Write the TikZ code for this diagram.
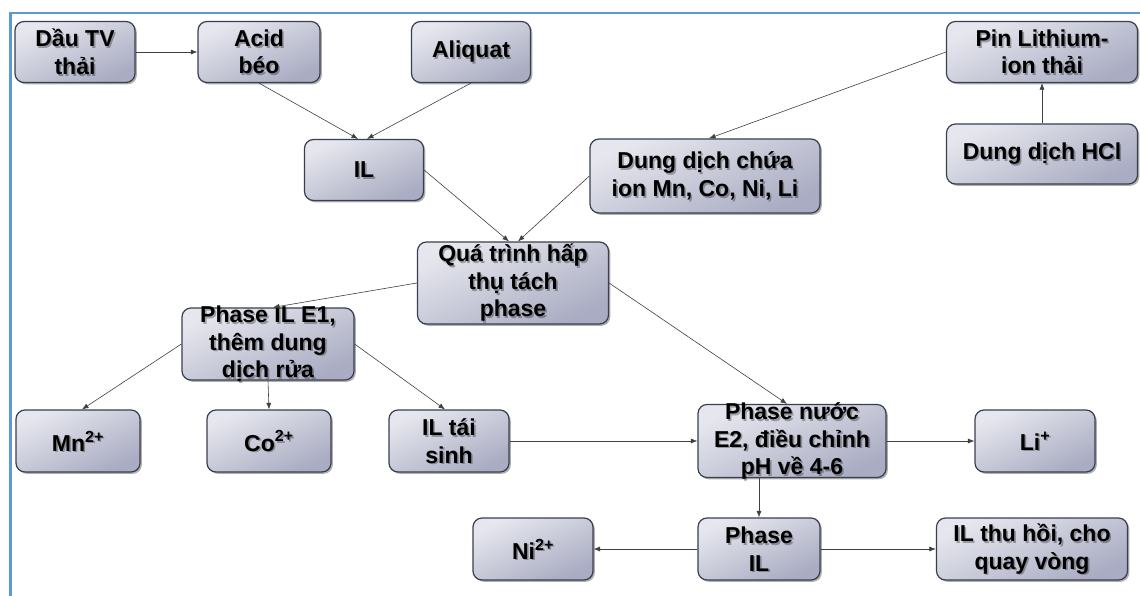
\documentclass[tikz,border=0pt]{standalone}
\usepackage{fontspec}
\setmainfont{Liberation Sans}
\usetikzlibrary{shadows,arrows.meta}
\definecolor{frameblue}{HTML}{5B9BD5}
\definecolor{boxedge}{HTML}{3A3F4F}
\definecolor{boxlight}{HTML}{E6E7EE}
\definecolor{boxdark}{HTML}{A9ACC2}
\definecolor{linegray}{HTML}{404040}
\tikzset{
  box/.style={draw=boxedge, line width=1.2pt, rounded corners=9pt,
    top color=boxlight, bottom color=boxdark, shading angle=25,
    drop shadow={shadow xshift=1.8pt, shadow yshift=-1.8pt, opacity=0.45, fill=black!70},
    inner sep=0pt},
  boxtext/.style={font=\bfseries\fontsize{23}{27.5}\selectfont, align=center, inner sep=0pt, text=black},
  boxtextshadow/.style={boxtext, text=black, opacity=0.3},
  conn/.style={draw=linegray, line width=0.6pt, -{Latex[length=6.5pt,width=5pt]}}
}
\newcommand\bx[5]{%
  \node[box, minimum width=#1, minimum height=#2] (#3) at #4 {};
  \node[boxtextshadow] (#3s) at ([shift={(1.6pt,-1.6pt)}]#3.center) {#5};
  \node[boxtext] (#3t) at (#3.center) {#5};
}
\begin{document}
\begin{tikzpicture}[x=1pt,y=-1pt]
\useasboundingbox (0,0) rectangle (1140,596);
\fill[white] (0,0) rectangle (1140,596);
% frame
\draw[frameblue, line width=2.6pt] (10.5,596) -- (10.5,13) -- (1140,13);

% nodes
\bx{120pt}{61pt}{dau}{(75,52)}{Dầu TV\\thải}
\bx{122pt}{61pt}{acid}{(259,52)}{Acid\\béo}
\bx{119pt}{61pt}{aliq}{(471,52)}{Aliquat}
\bx{191pt}{61pt}{pin}{(1042,52)}{Pin Lithium-\\ion thải}
\bx{119pt}{61pt}{il}{(364,170)}{IL}
\bx{230pt}{74pt}{dung}{(705,176)}{Dung dịch chứa\\ion Mn, Co, Ni, Li}
\bx{191pt}{60pt}{hcl}{(1042,154)}{Dung dịch HCl}
\bx{191pt}{82pt}{qua}{(513,283)}{Quá trình hấp\\thụ tách\\phase}
\bx{172pt}{72pt}{e1}{(268,344)}{Phase IL E1,\\thêm dung\\dịch rửa}
\bx{124pt}{62pt}{mn}{(78,441)}{Mn\textsuperscript{2+}}
\bx{124pt}{62pt}{co}{(269,441)}{Co\textsuperscript{2+}}
\bx{120pt}{62pt}{ilts}{(449,441)}{IL tái\\sinh}
\bx{188pt}{73pt}{nuoc}{(792,441)}{Phase nước\\E2, điều chỉnh\\pH về 4-6}
\bx{120pt}{62pt}{li}{(1035,441)}{Li\textsuperscript{+}}
\bx{120pt}{62pt}{ni}{(533,549)}{Ni\textsuperscript{2+}}
\bx{122pt}{62pt}{pil}{(759,549)}{Phase\\IL}
\bx{191pt}{62pt}{ilth}{(1032,549)}{IL thu hồi, cho\\quay vòng}

% connectors
\draw[conn] (dau.east) -- (acid.west);
\draw[conn] (acid.south) -- ([xshift=-6pt]il.north);
\draw[conn] (aliq.south) -- ([xshift=3pt]il.north);
\draw[conn] (pin.west) -- ([xshift=4pt]dung.north);
\draw[conn] (hcl.north) -- (pin.south);
\draw[conn] (il.east) -- ([xshift=-4pt]qua.north);
\draw[conn] (dung.west) -- ([xshift=5pt]qua.north);
\draw[conn] (qua.west) -- ([xshift=5pt]e1.north);
\draw[conn] (qua.east) -- ([xshift=-5pt]nuoc.north);
\draw[conn] (e1.west) -- ([xshift=4pt]mn.north);
\draw[conn] (e1.south) -- (co.north);
\draw[conn] (e1.east) -- ([xshift=-4pt]ilts.north);
\draw[conn] (ilts.east) -- (nuoc.west);
\draw[conn] (nuoc.east) -- (li.west);
\draw[conn] (nuoc.south -| pil.north) -- (pil.north);
\draw[conn] (pil.west) -- (ni.east);
\draw[conn] (pil.east) -- (ilth.west);
\end{tikzpicture}
\end{document}
